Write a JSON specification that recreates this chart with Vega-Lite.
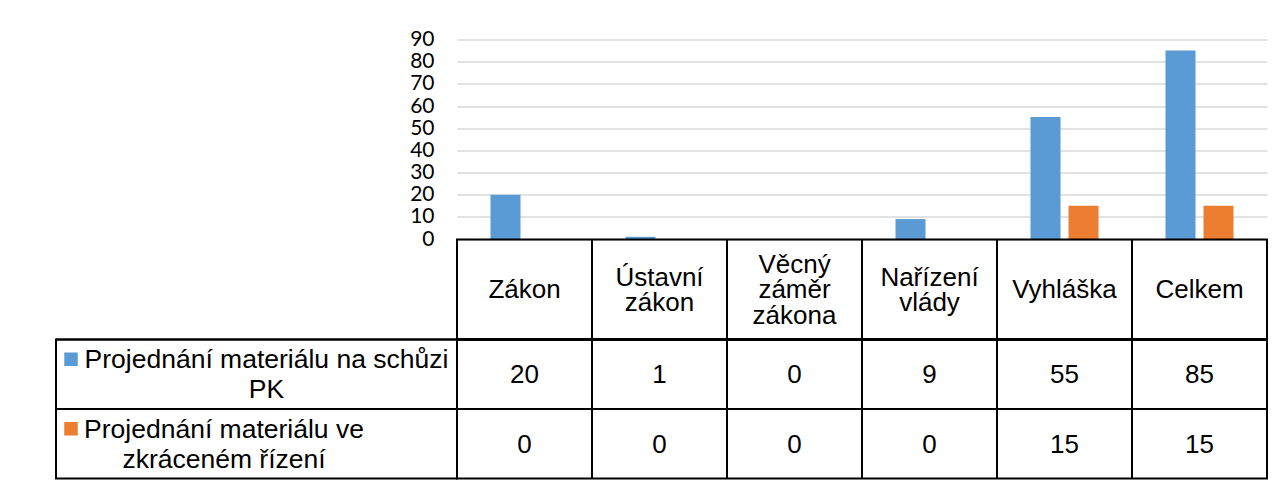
{
  "$schema": "https://vega.github.io/schema/vega-lite/v6.json",
  "background": "white",
  "padding": {"left": 54, "top": 28.5, "right": 0, "bottom": 0},
  "config": {"view": {"stroke": null}, "font": "Liberation Sans"},
  "datasets": {
    "bars": [
      {"category": "Zákon", "series": "Projednání materiálu na schůzi PK", "value": 20},
      {"category": "Zákon", "series": "Projednání materiálu ve zkráceném řízení", "value": 0},
      {"category": "Ústavní zákon", "series": "Projednání materiálu na schůzi PK", "value": 1},
      {"category": "Ústavní zákon", "series": "Projednání materiálu ve zkráceném řízení", "value": 0},
      {"category": "Věcný záměr zákona", "series": "Projednání materiálu na schůzi PK", "value": 0},
      {"category": "Věcný záměr zákona", "series": "Projednání materiálu ve zkráceném řízení", "value": 0},
      {"category": "Nařízení vlády", "series": "Projednání materiálu na schůzi PK", "value": 9},
      {"category": "Nařízení vlády", "series": "Projednání materiálu ve zkráceném řízení", "value": 0},
      {"category": "Vyhláška", "series": "Projednání materiálu na schůzi PK", "value": 55},
      {"category": "Vyhláška", "series": "Projednání materiálu ve zkráceném řízení", "value": 15},
      {"category": "Celkem", "series": "Projednání materiálu na schůzi PK", "value": 85},
      {"category": "Celkem", "series": "Projednání materiálu ve zkráceném řízení", "value": 15}
    ],
    "cats": [
      {"category": "Zákon", "label": "Zákon", "lines": 1},
      {"category": "Ústavní zákon", "label": "Ústavní|zákon", "lines": 2},
      {"category": "Věcný záměr zákona", "label": "Věcný|záměr|zákona", "lines": 3},
      {"category": "Nařízení vlády", "label": "Nařízení|vlády", "lines": 2},
      {"category": "Vyhláška", "label": "Vyhláška", "lines": 1},
      {"category": "Celkem", "label": "Celkem", "lines": 1}
    ],
    "series": [
      {"series": "Projednání materiálu na schůzi PK", "label": "Projednání materiálu na schůzi|PK"},
      {"series": "Projednání materiálu ve zkráceném řízení", "label": "Projednání materiálu ve|zkráceném řízení"}
    ]
  },
  "columns": 2,
  "spacing": 0,
  "bounds": "flush",
  "resolve": {"scale": {"x": "independent", "y": "independent"}},
  "concat": [
    {
      "width": 401, "height": 199.5,
      "data": {"values": []},
      "mark": "text"
    },
    {
      "width": 810, "height": 199.5,
      "data": {"name": "bars"},
      "mark": {"type": "bar"},
      "encoding": {
        "x": {"field": "category", "type": "nominal", "sort": ["Zákon", "Ústavní zákon", "Věcný záměr zákona", "Nařízení vlády", "Vyhláška", "Celkem"], "scale": {"paddingInner": 0, "paddingOuter": 0}, "axis": null},
        "xOffset": {"field": "series", "type": "nominal", "sort": ["Projednání materiálu na schůzi PK", "Projednání materiálu ve zkráceném řízení"], "scale": {"paddingInner": 0.2105, "paddingOuter": 0.8816}},
        "y": {"field": "value", "type": "quantitative", "scale": {"domain": [0, 90], "nice": false},
          "axis": {"values": [0, 10, 20, 30, 40, 50, 60, 70, 80, 90], "title": null, "domain": false, "ticks": false, "labelFont": "Lato", "labelFontSize": 21, "labelColor": "black", "labelPadding": 23, "gridColor": "#d9d9d9", "gridWidth": 1.3}},
        "color": {"field": "series", "type": "nominal", "scale": {"domain": ["Projednání materiálu na schůzi PK", "Projednání materiálu ve zkráceném řízení"], "range": ["#5B9BD5", "#ED7D31"]}, "legend": null}
      }
    },
    {
      "width": 401, "height": 99.5,
      "data": {"values": []},
      "mark": "text"
    },
    {
      "width": 810, "height": 99.5,
      "data": {"name": "cats"},
      "view": {"stroke": "black", "strokeWidth": 2},
      "encoding": {
        "x": {"field": "category", "type": "nominal", "sort": ["Zákon", "Ústavní zákon", "Věcný záměr zákona", "Nařízení vlády", "Vyhláška", "Celkem"], "scale": {"paddingInner": 0, "paddingOuter": 0}, "axis": null}
      },
      "layer": [
        {
          "mark": {"type": "rule", "color": "black", "strokeWidth": 2},
          "encoding": {
            "x": {"field": "category", "type": "nominal", "bandPosition": 0, "sort": ["Zákon", "Ústavní zákon", "Věcný záměr zákona", "Nařízení vlády", "Vyhláška", "Celkem"], "scale": {"paddingInner": 0, "paddingOuter": 0}, "axis": null}
          }
        },
        {
          "transform": [{"filter": "datum.lines === 1"}],
          "mark": {"type": "text", "lineBreak": "|", "fontSize": 26, "lineHeight": 25.5, "color": "black", "dy": 1},
          "encoding": {"text": {"field": "label"}}
        },
        {
          "transform": [{"filter": "datum.lines === 2"}],
          "mark": {"type": "text", "lineBreak": "|", "fontSize": 26, "lineHeight": 25.5, "color": "black", "dy": -11.75},
          "encoding": {"text": {"field": "label"}}
        },
        {
          "transform": [{"filter": "datum.lines === 3"}],
          "mark": {"type": "text", "lineBreak": "|", "fontSize": 26, "lineHeight": 25.5, "color": "black", "dy": -24.5},
          "encoding": {"text": {"field": "label"}}
        }
      ]
    },
    {
      "width": 401, "height": 139,
      "data": {"name": "series"},
      "view": {"stroke": "black", "strokeWidth": 2},
      "encoding": {
        "y": {"field": "series", "type": "nominal", "sort": ["Projednání materiálu na schůzi PK", "Projednání materiálu ve zkráceném řízení"], "scale": {"paddingInner": 0, "paddingOuter": 0}, "axis": null}
      },
      "layer": [
        {
          "mark": {"type": "rule", "color": "black", "strokeWidth": 2},
          "encoding": {
            "y": {"field": "series", "type": "nominal", "bandPosition": 0, "sort": ["Projednání materiálu na schůzi PK", "Projednání materiálu ve zkráceném řízení"], "scale": {"paddingInner": 0, "paddingOuter": 0}, "axis": null}
          }
        },
        {
          "mark": {"type": "point", "shape": "square", "filled": true, "opacity": 1, "size": 182, "xOffset": -185.5, "yOffset": -15},
          "encoding": {
            "color": {"field": "series", "type": "nominal", "scale": {"domain": ["Projednání materiálu na schůzi PK", "Projednání materiálu ve zkráceném řízení"], "range": ["#5B9BD5", "#ED7D31"]}, "legend": null}
          }
        },
        {
          "transform": [{"filter": "datum.series === 'Projednání materiálu na schůzi PK'"}],
          "mark": {"type": "text", "lineBreak": "|", "fontSize": 26.5, "lineHeight": 30, "color": "black", "dx": 10, "dy": -14},
          "encoding": {"text": {"field": "label"}}
        },
        {
          "transform": [{"filter": "datum.series === 'Projednání materiálu ve zkráceném řízení'"}],
          "mark": {"type": "text", "lineBreak": "|", "fontSize": 26.5, "lineHeight": 30, "color": "black", "dx": -32.5, "dy": -14},
          "encoding": {"text": {"field": "label"}}
        }
      ]
    },
    {
      "width": 810, "height": 139,
      "data": {"name": "bars"},
      "view": {"stroke": "black", "strokeWidth": 2},
      "encoding": {
        "x": {"field": "category", "type": "nominal", "sort": ["Zákon", "Ústavní zákon", "Věcný záměr zákona", "Nařízení vlády", "Vyhláška", "Celkem"], "scale": {"paddingInner": 0, "paddingOuter": 0}, "axis": null},
        "y": {"field": "series", "type": "nominal", "sort": ["Projednání materiálu na schůzi PK", "Projednání materiálu ve zkráceném řízení"], "scale": {"paddingInner": 0, "paddingOuter": 0}, "axis": null}
      },
      "layer": [
        {
          "mark": {"type": "rule", "color": "black", "strokeWidth": 2},
          "encoding": {
            "x": {"field": "category", "type": "nominal", "bandPosition": 0, "sort": ["Zákon", "Ústavní zákon", "Věcný záměr zákona", "Nařízení vlády", "Vyhláška", "Celkem"], "scale": {"paddingInner": 0, "paddingOuter": 0}, "axis": null},
            "y": null
          }
        },
        {
          "mark": {"type": "rule", "color": "black", "strokeWidth": 2},
          "encoding": {
            "x": null,
            "y": {"field": "series", "type": "nominal", "bandPosition": 0, "sort": ["Projednání materiálu na schůzi PK", "Projednání materiálu ve zkráceném řízení"], "scale": {"paddingInner": 0, "paddingOuter": 0}, "axis": null}
          }
        },
        {
          "mark": {"type": "text", "fontSize": 26, "color": "black", "dy": 1},
          "encoding": {"text": {"field": "value", "type": "quantitative"}}
        }
      ]
    }
  ]
}
